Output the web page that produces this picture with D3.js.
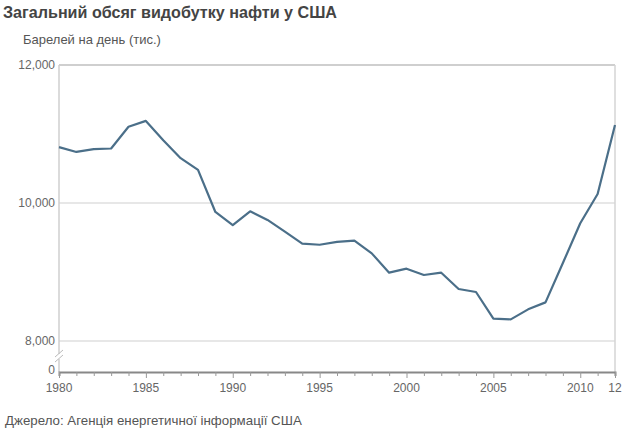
<!DOCTYPE html>
<html>
<head>
<meta charset="utf-8">
<script src="https://cdn.jsdelivr.net/npm/d3@7"></script>
<style>
  body { margin: 0; background: #fff; }
  svg { font-family: "Liberation Sans", Arial, sans-serif; }
</style>
</head>
<body>
<svg id="chart" width="640" height="436"></svg>
<script>
// data (thousand barrels per day)
const years = d3.range(1980, 2013);
const production = [
  10810, 10740, 10780, 10790, 11105, 11190, 10910, 10650, 10480, 9870,
  9680, 9880, 9755, 9585, 9410, 9395, 9437, 9455, 9270, 8990,
  9048, 8957, 8990, 8754, 8710, 8323, 8314, 8459, 8560, 9130,
  9706, 10130, 11130
];
const yTicks = [8000, 10000, 12000];
const xLabels = [1980, 1985, 1990, 1995, 2000, 2005, 2010, 2012];

const svg = d3.select('#chart'),
  margin = { top: 65, right: 25, bottom: 64, left: 59 },
  width = 640 - margin.left - margin.right,
  height = 436 - margin.top - margin.bottom; // baseline (0) at bottom

const zeroY = height;           // the broken "0" baseline
const breakTop = height - 31;   // where 8,000 sits

const x = d3.scaleLinear().domain([1980, 2012]).range([0, width]);
const y = d3.scaleLinear().domain([8000, 12000]).range([breakTop, 0]);

// title & subtitle
svg.append('text')
  .attr('x', 3).attr('y', 18)
  .attr('font-size', 16.5).attr('font-weight', 'bold').attr('fill', '#444')
  .attr('textLength', 334).attr('lengthAdjust', 'spacingAndGlyphs')
  .text('Загальний обсяг видобутку нафти у США');
svg.append('text')
  .attr('x', 23).attr('y', 44)
  .attr('font-size', 13).attr('fill', '#555')
  .text('Барелей на день (тис.)');

const g = svg.append('g')
  .attr('transform', `translate(${margin.left},${margin.top})`);

// horizontal grid
g.selectAll('line.grid').data(yTicks).enter().append('line')
  .attr('class', 'grid')
  .attr('x1', 0).attr('x2', width)
  .attr('y1', d => y(d)).attr('y2', d => y(d))
  .attr('stroke', '#cfcfcf')
  .attr('stroke-width', d => d === 12000 ? 2 : 1);

// left & right frame
g.append('line').attr('x1', 0).attr('x2', 0).attr('y1', 0).attr('y2', zeroY)
  .attr('stroke', '#cfcfcf').attr('stroke-width', 1.5);
g.append('line').attr('x1', width).attr('x2', width).attr('y1', 0).attr('y2', zeroY)
  .attr('stroke', '#d5d5d5').attr('stroke-width', 1.5);

// axis break marks
const bY = breakTop + 16;
g.append('rect').attr('x', -3).attr('y', bY - 3).attr('width', 6).attr('height', 5).attr('fill', '#fff');
[-3, 2].forEach(o => {
  g.append('line')
    .attr('x1', -4).attr('y1', bY + o + 3).attr('x2', 4).attr('y2', bY + o - 4)
    .attr('stroke', '#bbb').attr('stroke-width', 1);
});

// y labels
g.selectAll('text.ylab').data(yTicks).enter().append('text')
  .attr('class', 'ylab')
  .attr('x', -4).attr('y', d => y(d)).attr('dy', '0.35em')
  .attr('text-anchor', 'end').attr('font-size', 12).attr('fill', '#666')
  .text(d3.format(','));
g.append('text')
  .attr('x', -4).attr('y', zeroY - 2).attr('dy', '0.35em')
  .attr('text-anchor', 'end').attr('font-size', 12).attr('fill', '#666')
  .text('0');

// x axis
const xAxis = d3.axisBottom(x)
  .tickValues(years)
  .tickSize(4)
  .tickFormat('');
const xg = g.append('g').attr('transform', `translate(0,${zeroY})`).call(xAxis);
xg.select('.domain').attr('stroke', '#888').attr('stroke-width', 2);
xg.selectAll('.tick line')
  .attr('stroke', '#999')
  .attr('y2', d => xLabels.includes(d) ? 6 : 4);

g.selectAll('text.xlab').data(xLabels).enter().append('text')
  .attr('class', 'xlab')
  .attr('x', x).attr('y', zeroY + 20)
  .attr('text-anchor', 'middle').attr('font-size', 12).attr('fill', '#666')
  .text(d => d === 2012 ? '12' : d);

// the line
const line = d3.line()
  .x((d, i) => x(years[i]))
  .y(d => y(d));

g.append('path')
  .datum(production)
  .attr('d', line)
  .attr('fill', 'none')
  .attr('stroke', '#4b6f89')
  .attr('stroke-width', 2.2)
  .attr('stroke-linejoin', 'round');

// source
svg.append('text')
  .attr('x', 5).attr('y', 425)
  .attr('font-size', 13.3).attr('fill', '#555')
  .text('Джерело: Агенція енергетичної інформації США');
</script>
</body>
</html>
